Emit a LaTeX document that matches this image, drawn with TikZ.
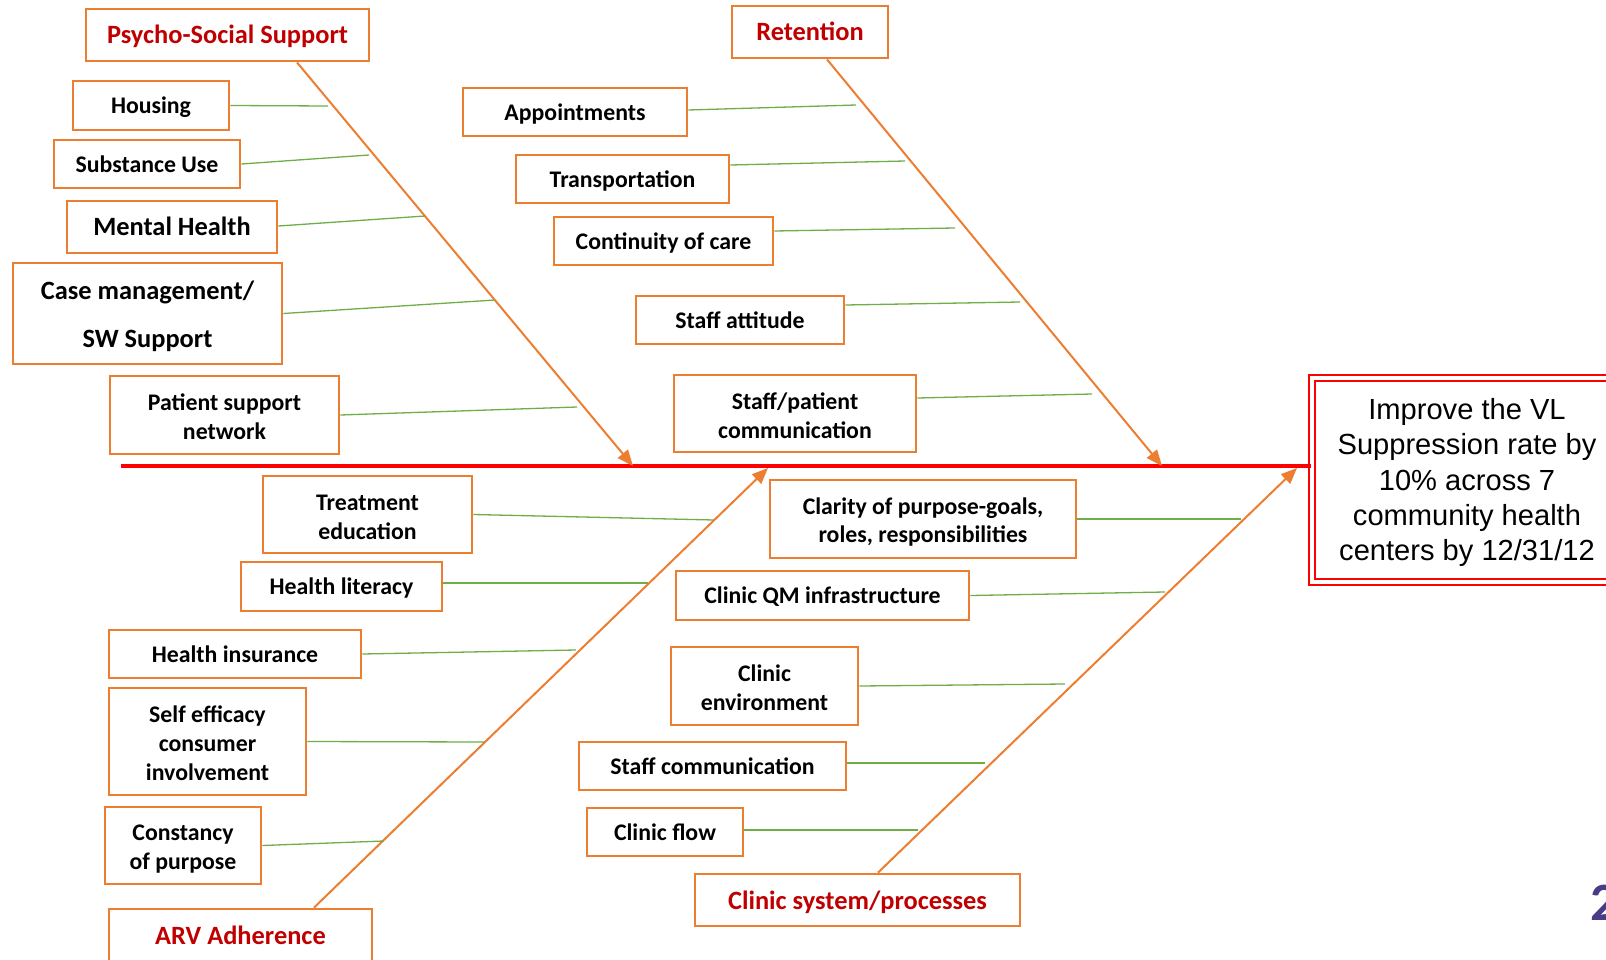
\documentclass[tikz,border=0pt]{standalone}
\usepackage{fontspec}
\setmainfont{Carlito}
\newfontfamily\arialfont{Liberation Sans}
\usetikzlibrary{arrows.meta,calc}

\definecolor{boxorange}{HTML}{ED7D31}
\definecolor{headred}{HTML}{C00000}
\definecolor{twiggreen}{HTML}{70AD47}
\definecolor{slidepurple}{HTML}{4B3A86}

\tikzset{
  cause/.style={draw=boxorange, line width=2.8pt, fill=white, inner sep=0pt, align=flush center,
    font=\fontsize{23.8}{28.7}\selectfont\bfseries,
    execute at begin node=\rule[-6.4pt]{0pt}{29.1pt},
    execute at end node=\rule[-2.4pt]{0pt}{2.4pt}},
  bigcause/.style={cause, font=\fontsize{26.4}{32}\selectfont\bfseries,
    execute at begin node=\rule[-7.1pt]{0pt}{32.2pt}},
  head/.style={bigcause, text=headred},
  bone/.style={draw=boxorange, line width=2pt, -{Triangle[length=16pt,width=13pt]}},
  twig/.style={draw=twiggreen, line width=1.3pt},
  spine/.style={draw=red, line width=3.5pt},
  goal/.style={draw=red, double=white, double distance=3.5pt, line width=2pt, align=flush center,
    inner sep=0pt, font=\arialfont\fontsize{29.1}{35.3}\selectfont,
    execute at begin node=\rule[-6.2pt]{0pt}{32.5pt}}
}

\begin{document}
\begin{tikzpicture}[x=1pt,y=-1pt]
    \useasboundingbox (0,0) rectangle (1606,960);
    \clip (0,0) rectangle (1606,960);

    \node[head, text width=283, minimum height=52] (psy) at (227.5,35) {Psycho-Social Support};
    \node[cause, text width=156, minimum height=49] (hou) at (151,105.5) {Housing};
    \node[cause, text width=186, minimum height=48] (sub) at (147,164) {Substance Use};
    \node[bigcause, text width=210, minimum height=52] (men) at (172,227) {Mental Health};
    \node[bigcause, text width=269, minimum height=101, font=\fontsize{26.4}{48}\selectfont\bfseries] (cas) at (147.5,313.5) {Case management/\\SW Support};
    \node[cause, text width=229, minimum height=78] (pat) at (224.5,415) {Patient support\\network};

    \node[head, text width=156, minimum height=52] (ret) at (810,32) {Retention};
    \node[cause, text width=224, minimum height=48] (app) at (575,112) {Appointments};
    \node[cause, text width=213, minimum height=48] (tra) at (622.5,179) {Transportation};
    \node[cause, text width=219, minimum height=48] (con) at (663.5,241) {Continuity of care};
    \node[cause, text width=208, minimum height=48] (att) at (740,320) {Staff attitude};
    \node[cause, text width=242, minimum height=77] (stp) at (795,413.5) {Staff/patient\\communication};

    \node[cause, text width=209, minimum height=77] (tre) at (367.5,514.5) {Treatment\\education};
    \node[cause, text width=201, minimum height=49] (lit) at (341.5,586.5) {Health literacy};
    \node[cause, text width=252, minimum height=48] (ins) at (235,654) {Health insurance};
    \node[cause, text width=197, minimum height=107] (eff) at (207.5,741.5) {Self efficacy\\consumer\\involvement};
    \node[cause, text width=156, minimum height=77] (cst) at (183,845.5) {Constancy\\of purpose};
    \node[head, text width=263, minimum height=52] (arv) at (240.5,935) {ARV Adherence};

    \node[cause, text width=306, minimum height=78] (cla) at (923,519) {Clarity of purpose-goals,\\roles, responsibilities};
    \node[cause, text width=293, minimum height=49] (qm) at (822.5,595.5) {Clinic QM infrastructure};
    \node[cause, text width=187, minimum height=78] (env) at (764.5,686) {Clinic\\environment};
    \node[cause, text width=267, minimum height=48] (stc) at (712.5,766) {Staff communication};
    \node[cause, text width=156, minimum height=48] (flo) at (665,832) {Clinic flow};
    \node[head, text width=325, minimum height=52] (cli) at (857.5,900) {Clinic system/processes};

    \node[goal, text width=310, minimum height=204] (vl) at (1467,480) {Improve the VL\\Suppression rate by\\10\% across 7\\community health\\centers by 12/31/12};

    \node[anchor=base west, inner sep=0pt, text=slidepurple, font=\fontsize{54}{56}\selectfont\bfseries] (slide) at (1590,920) {2};

    \coordinate (tail) at (121,466);
    \coordinate (psytip) at (633,466);
    \coordinate (rettip) at (1162,466);
    \coordinate (arvtip) at (768,468);
    \coordinate (clitip) at (1297,468);

    \draw[spine] (tail) -- (tail -| vl.west);

    \draw[bone] ($(psy.south)+(69.5,0)$) -- (psytip);
    \draw[bone] ($(ret.south)+(17,0)$) -- (rettip);
    \draw[bone] ($(arv.north)+(73.5,0)$) -- (arvtip);
    \draw[bone] ($(cli.north)+(20.5,0)$) -- (clitip);

    \foreach \n/\dy/\x/\y in {hou/0/328/106, sub/0/369/155, men/-1/425/216, cas/0/495/300, pat/0/577/407,
        app/-2/856/105, tra/-14/905/161, con/-10/955/228, att/-15/1020/302, stp/-15.5/1092/394,
        tre/0/714/520, lit/-3.5/648/583, ins/0/576/650, eff/0/485/742, cst/0/384/841,
        cla/0/1241/519, qm/0/1165/592, env/0/1065/684, stc/-3/985/763, flo/-2/918/830} {
        \coordinate (\n-end) at (\x,\y);
        \draw[twig] ($(\n.east)+(0,\dy)$) -- (\n-end);
    }
\end{tikzpicture}
\end{document}
